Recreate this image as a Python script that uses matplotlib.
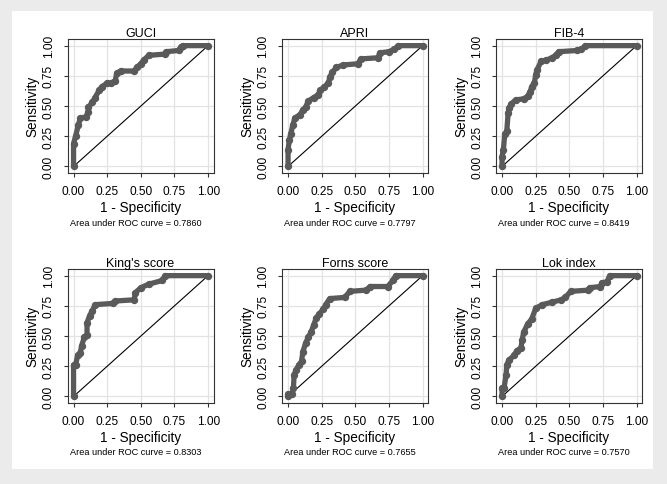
import matplotlib
matplotlib.use("Agg")
import matplotlib.pyplot as plt
from matplotlib.patches import Rectangle

plt.rcParams['font.family'] = ['Liberation Sans', 'DejaVu Sans']

titles = ["GUCI", "APRI", "FIB-4", "King's score", "Forns score", "Lok index"]
auc = ["0.7860", "0.7797", "0.8419", "0.8303", "0.7655", "0.7570"]

guci_x = [0, 0, 0.015, 0.035, 0.05, 0.09, 0.11, 0.11, 0.14, 0.16, 0.19, 0.21, 0.25, 0.28, 0.31, 0.32, 0.35, 0.45, 0.47, 0.50, 0.52, 0.56, 0.68, 0.69, 0.78, 0.80, 0.81, 1.0]
guci_y = [0, 0.19, 0.25, 0.34, 0.40, 0.41, 0.45, 0.49, 0.53, 0.57, 0.63, 0.66, 0.69, 0.69, 0.71, 0.77, 0.79, 0.79, 0.82, 0.85, 0.88, 0.92, 0.93, 0.95, 0.96, 0.99, 1.0, 1.0]

apri_x = [0, 0, 0.01, 0.02, 0.035, 0.05, 0.09, 0.11, 0.13, 0.15, 0.19, 0.22, 0.24, 0.27, 0.30, 0.31, 0.33, 0.36, 0.41, 0.52, 0.54, 0.67, 0.68, 0.75, 0.79, 0.82, 1.0]
apri_y = [0, 0.14, 0.22, 0.27, 0.34, 0.40, 0.43, 0.47, 0.49, 0.54, 0.57, 0.59, 0.63, 0.66, 0.69, 0.74, 0.78, 0.82, 0.84, 0.85, 0.89, 0.90, 0.94, 0.95, 0.97, 1.0, 1.0]

fib4_x = [0, 0, 0.01, 0.02, 0.035, 0.045, 0.05, 0.07, 0.10, 0.16, 0.19, 0.21, 0.22, 0.24, 0.25, 0.26, 0.29, 0.33, 0.37, 0.40, 0.42, 0.56, 0.59, 0.62, 1.0]
fib4_y = [0, 0.08, 0.14, 0.27, 0.29, 0.44, 0.48, 0.52, 0.55, 0.56, 0.58, 0.62, 0.66, 0.69, 0.76, 0.80, 0.87, 0.88, 0.90, 0.92, 0.95, 0.96, 0.97, 1.0, 1.0]

king_x = [0, 0, 0.015, 0.03, 0.05, 0.06, 0.08, 0.10, 0.10, 0.12, 0.14, 0.16, 0.29, 0.31, 0.45, 0.46, 0.50, 0.56, 0.66, 0.68, 1.0]
king_y = [0, 0.26, 0.26, 0.34, 0.36, 0.42, 0.49, 0.51, 0.61, 0.67, 0.71, 0.76, 0.77, 0.79, 0.80, 0.86, 0.90, 0.93, 0.96, 1.0, 1.0]

forns_x = [0, 0, 0.03, 0.04, 0.045, 0.06, 0.08, 0.10, 0.11, 0.13, 0.15, 0.17, 0.19, 0.21, 0.23, 0.26, 0.28, 0.31, 0.42, 0.46, 0.58, 0.61, 0.74, 0.78, 0.80, 1.0]
forns_y = [0, 0.02, 0.02, 0.07, 0.18, 0.22, 0.26, 0.29, 0.37, 0.44, 0.49, 0.53, 0.59, 0.65, 0.68, 0.72, 0.76, 0.81, 0.82, 0.87, 0.88, 0.91, 0.91, 0.96, 1.0, 1.0]

lok_x = [0, 0, 0.015, 0.03, 0.035, 0.05, 0.09, 0.11, 0.14, 0.15, 0.16, 0.19, 0.22, 0.25, 0.30, 0.37, 0.44, 0.47, 0.51, 0.64, 0.65, 0.73, 0.74, 0.78, 0.80, 1.0]
lok_y = [0, 0.07, 0.07, 0.18, 0.26, 0.30, 0.34, 0.38, 0.40, 0.47, 0.53, 0.60, 0.64, 0.73, 0.76, 0.78, 0.80, 0.82, 0.87, 0.88, 0.90, 0.91, 0.94, 0.95, 1.0, 1.0]

curves = [(guci_x, guci_y), (apri_x, apri_y), (fib4_x, fib4_y),
          (king_x, king_y), (forns_x, forns_y), (lok_x, lok_y)]
ticks = [0, 0.25, 0.5, 0.75, 1.0]
ticklabels = ["0.00", "0.25", "0.50", "0.75", "1.00"]

W, H = 667, 485
fig = plt.figure(figsize=(W / 100, H / 100), dpi=100, facecolor="#ebebeb")
fig.patches.append(Rectangle((12 / W, 1 - 470 / H), 641 / W, 458 / H,
                             transform=fig.transFigure, facecolor="white",
                             edgecolor="none", zorder=-5))

lefts = [67.5, 282, 496]
tops = [40, 270]
aw, ah = 146, 133.5
note_y = [224, 453]

for i, (title, (xs, ys)) in enumerate(zip(titles, curves)):
    r, c = divmod(i, 3)
    ax = fig.add_axes([lefts[c] / W, 1 - (tops[r] + ah) / H, aw / W, ah / H])
    ax.set_facecolor("white")
    ax.plot([0, 1], [0, 1], color="black", lw=0.8, zorder=2)
    ax.plot(xs, ys, color="#5a5a5a", lw=3.8, marker="o", ms=4.3,
            solid_capstyle="round", solid_joinstyle="round", zorder=3)
    ax.set_xlim(-0.045, 1.04)
    ax.set_ylim(-0.05, 1.055)
    ax.set_xticks(ticks)
    ax.set_xticklabels(ticklabels)
    ax.set_yticks(ticks)
    ax.set_yticklabels(ticklabels, rotation=90, va="center")
    ax.grid(True, color="#e3e3e3", lw=0.9, zorder=0)
    ax.set_axisbelow(True)
    ax.tick_params(direction="out", length=3, width=0.8, color="#333333",
                   labelsize=8.6, pad=6)
    for s in ax.spines.values():
        s.set_color("#333333")
        s.set_linewidth(0.8)
    ax.set_title(title, fontsize=9, pad=2.5)
    ax.set_xlabel("1 - Specificity", fontsize=9.8, labelpad=2.5)
    ax.set_ylabel("Sensitivity", fontsize=9.8, labelpad=2.5)
    cx = (lefts[c] + aw / 2 - 5) / W
    fig.text(cx, 1 - note_y[r] / H, "Area under ROC curve = " + auc[i],
             fontsize=6.6, ha="center", va="center")

fig.savefig("out.png", dpi=100, facecolor=fig.get_facecolor())
